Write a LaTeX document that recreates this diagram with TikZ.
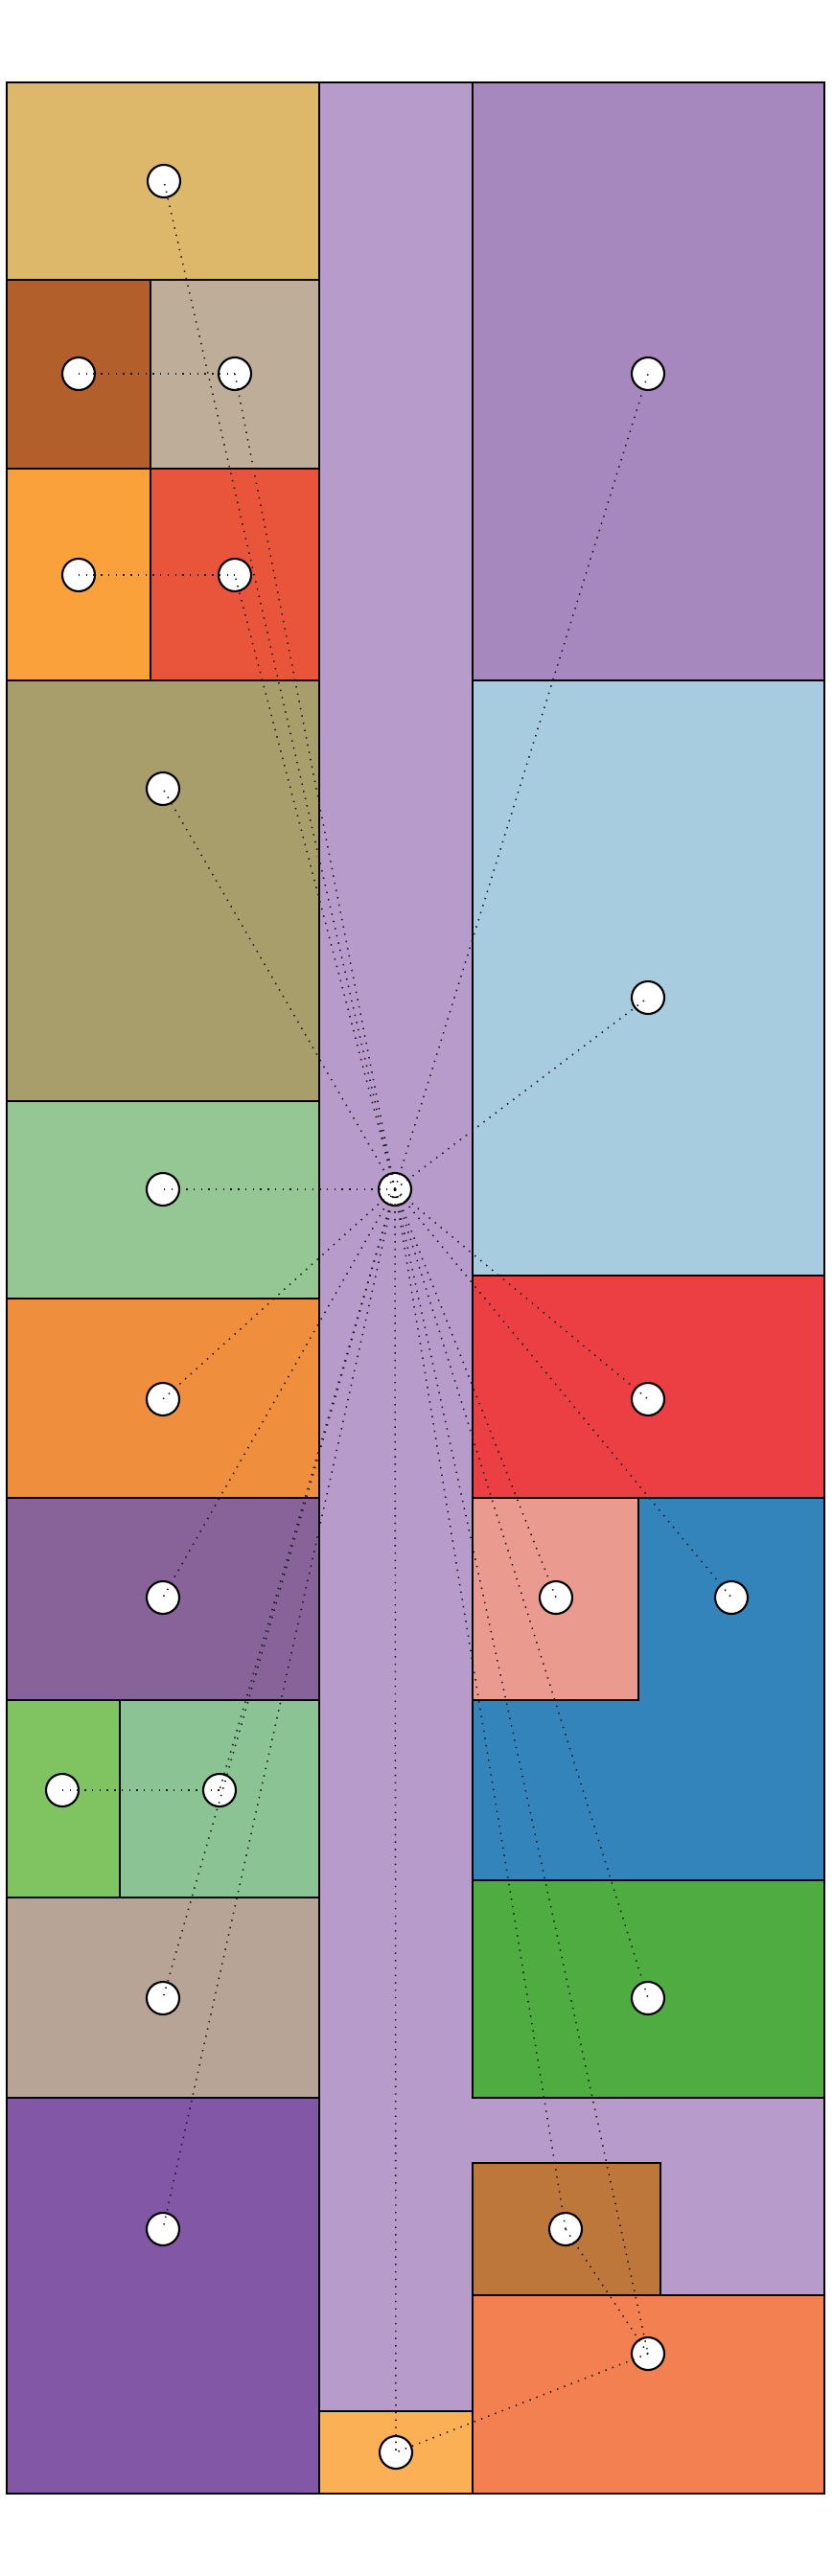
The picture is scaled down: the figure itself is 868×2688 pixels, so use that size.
\documentclass[tikz,border=0pt]{standalone}
\usepackage{tikz}
\usepackage{xcolor}
\usetikzlibrary{positioning}
\definecolor{tanTop}{RGB}{221,183,106}
\definecolor{brownA}{RGB}{178,95,44}
\definecolor{greyTan}{RGB}{190,173,153}
\definecolor{orangeA}{RGB}{251,161,60}
\definecolor{redOrange}{RGB}{233,85,59}
\definecolor{olive}{RGB}{168,158,108}
\definecolor{mint}{RGB}{148,199,148}
\definecolor{orangeB}{RGB}{239,143,62}
\definecolor{plum}{RGB}{135,99,153}
\definecolor{greenA}{RGB}{128,196,98}
\definecolor{mintB}{RGB}{139,195,149}
\definecolor{taupe}{RGB}{183,164,151}
\definecolor{violet}{RGB}{129,87,166}
\definecolor{corridor}{RGB}{182,155,203}
\definecolor{lavender}{RGB}{166,136,191}
\definecolor{skyblue}{RGB}{167,204,224}
\definecolor{redA}{RGB}{235,63,67}
\definecolor{salmon}{RGB}{235,154,143}
\definecolor{blueA}{RGB}{52,132,188}
\definecolor{greenB}{RGB}{78,172,64}
\definecolor{brownB}{RGB}{190,119,59}
\definecolor{coral}{RGB}{242,128,80}
\definecolor{apricot}{RGB}{251,176,85}

\begin{document}
\begin{tikzpicture}[x=0.1mm,y=-0.1mm,
  room/.style={draw=black,line width=0.65pt},
  spot/.style={circle,draw=black,fill=white,line width=0.6pt,minimum size=3.4mm,inner sep=0pt},
  link/.style={black!90,line width=0.45pt,dash pattern=on 0.4pt off 1.8pt}]

\useasboundingbox (0,0) rectangle (868,2688);

%% ── corridor ─────────────────────────────────────────────────────────────────
\draw[room,fill=corridor] (333,86) -- (493,86) -- (493,2189) -- (860,2189)
  -- (860,2395) -- (493,2395) -- (493,2516) -- (333,2516) -- cycle;
\draw[room,fill=apricot] (333,2516) rectangle (493,2602);

%% ════════════════════════════════════════════════════════════════════════════
%%  LEFT COLUMN
%% ════════════════════════════════════════════════════════════════════════════
\draw[room,fill=tanTop] (7,86) rectangle (333,292);
\draw[room,fill=brownA] (7,292) rectangle (157,489);
\draw[room,fill=greyTan] (157,292) rectangle (333,489);
\draw[room,fill=orangeA] (7,489) rectangle (157,710);
\draw[room,fill=redOrange] (157,489) rectangle (333,710);
\draw[room,fill=olive] (7,710) rectangle (333,1149);
\draw[room,fill=mint] (7,1149) rectangle (333,1355);
\draw[room,fill=orangeB] (7,1355) rectangle (333,1563);
\draw[room,fill=plum] (7,1563) rectangle (333,1774);
\draw[room,fill=greenA] (7,1774) rectangle (125,1980);
\draw[room,fill=mintB] (125,1774) rectangle (333,1980);
\draw[room,fill=taupe] (7,1980) rectangle (333,2189);
\draw[room,fill=violet] (7,2189) rectangle (333,2602);

%% ════════════════════════════════════════════════════════════════════════════
%%  RIGHT COLUMN
%% ════════════════════════════════════════════════════════════════════════════
\draw[room,fill=lavender] (493,86) rectangle (860,710);
\draw[room,fill=skyblue] (493,710) rectangle (860,1331);
\draw[room,fill=redA] (493,1331) rectangle (860,1563);
\draw[room,fill=blueA] (493,1563) rectangle (860,1962);
\draw[room,fill=salmon] (493,1563) rectangle (666,1774);
\draw[room,fill=greenB] (493,1962) rectangle (860,2189);
\draw[room,fill=brownB] (493,2257) rectangle (689,2395);
\draw[room,fill=coral] (493,2395) rectangle (860,2602);

%% ── spots ────────────────────────────────────────────────────────────────────
\node[spot] (ntan) at (171,189) {};
\node[spot] (nbrownA) at (82,390) {};
\node[spot] (ngreytan) at (245,390) {};
\node[spot] (norangeA) at (82,600) {};
\node[spot] (nredor) at (245,600) {};
\node[spot] (nolive) at (170,823) {};
\node[spot] (nmint) at (170,1241) {};
\node[spot] (norangeB) at (170,1460) {};
\node[spot] (nplum) at (170,1667) {};
\node[spot] (ngreenA) at (65,1868) {};
\node[spot] (nmintB) at (229,1868) {};
\node[spot] (ntaupe) at (170,2085) {};
\node[spot] (nviolet) at (170,2326) {};
\node[spot] (nhub) at (412,1241) {};
\node[spot] (napricot) at (413,2559) {};
\node[spot] (nlav) at (676,390) {};
\node[spot] (nsky) at (676,1041) {};
\node[spot] (nred) at (676,1460) {};
\node[spot] (nsalmon) at (580,1667) {};
\node[spot] (nblue) at (763,1667) {};
\node[spot] (ngreenB) at (676,2085) {};
\node[spot] (nbrownB) at (590,2326) {};
\node[spot] (ncoral) at (676,2456) {};

%% ── links ────────────────────────────────────────────────────────────────────
\foreach \t in {ntan,ngreytan,nredor,nolive,nmint,norangeB,nplum,nmintB,ntaupe,
  nviolet,nlav,nsky,nred,nsalmon,nblue,ngreenB,nbrownB,ncoral,napricot}
  \draw[link] (nhub.center) -- (\t.center);
\draw[link] (nbrownA.center) -- (ngreytan.center);
\draw[link] (norangeA.center) -- (nredor.center);
\draw[link] (ngreenA.center) -- (nmintB.center);
\draw[link] (nbrownB.center) -- (ncoral.center);
\draw[link] (ncoral.center) -- (napricot.center);

\end{tikzpicture}
\end{document}
